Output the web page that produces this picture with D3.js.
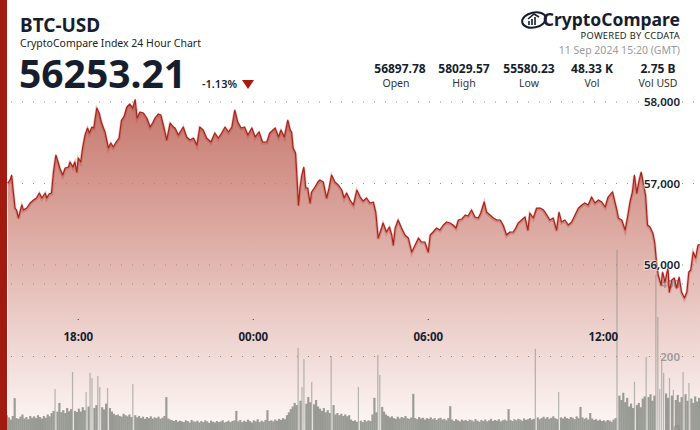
<!DOCTYPE html>
<html>
<head>
<meta charset="utf-8">
<script src="https://cdn.jsdelivr.net/npm/d3@7"></script>
<style>
  body { margin: 0; background: #fff; }
  svg { display: block; font-family: "Noto Sans", sans-serif; }
</style>
</head>
<body>
<svg id="chart" width="700" height="430"></svg>
<script>
// 24h window, 15:20 GMT to 15:20 GMT
var startTime = Date.UTC(2024, 8, 10, 15, 20);
var endTime = Date.UTC(2024, 8, 11, 15, 20);

// minutes after start
var priceMinutes = [16,21,24,27,31,34,38,41,45,48,55,62,69,75,81,86,93,96,101,106,
  110,115,120,123,129,134,141,144,150,154,158,161,166,170,175,180,184,189,193,199,
  204,209,216,223,228,233,239,245,250,255,261,267,273,278,282,288,295,302,309,314,
  319,326,331,336,343,350,357,360,367,377,384,391,398,405,411,418,425,434,442,449,
  456,463,470,477,483,489,496,503,510,518,525,533,540,549,555,566,573,578,585,592,
  597,600,603,608,611,614,617,621,625,629,633,638,641,648,654,658,665,672,677,682,
  689,696,703,708,713,720,727,734,741,747,754,761,768,773,778,785,788,795,801,806,
  809,813,819,826,833,840,847,854,861,867,874,881,885,891,898,905,912,919,926,932,
  938,943,950,957,963,970,977,984,989,996,1001,1008,1015,1022,1029,1035,1042,1049,1056,1061,
  1066,1073,1080,1086,1090,1097,1104,1111,1118,1125,1131,1138,1145,1150,1155,1162,1169,1176,1183,1190,
  1197,1203,1210,1217,1224,1231,1238,1245,1251,1260,1265,1269,1272,1279,1286,1291,1296,1301,1305,1310,
  1314,1319,1323,1328,1332,1337,1343,1347,1351,1354,1360,1363,1368,1374,1377,1382,1387,1392,1397,1402,
  1408,1413,1417,1421,1426,1431,1436,1440];

var prices = [57006,57043,57104,56920,56699,56675,56577,56650,56736,56675,56699,56761,56798,56822,56883,56822,56883,56822,56871,56883,
  57141,57350,57252,57190,57104,57190,57202,57264,57202,57264,57141,57313,57264,57436,57595,57681,57620,57693,57681,57926,
  57865,57742,57632,57436,57497,57448,57509,57558,57779,57816,57939,57975,57926,58030,57804,57877,57865,57804,57693,57742,
  57804,57853,57840,57718,57534,57742,57693,57681,57595,57693,57571,57534,57558,57472,57693,57656,57558,57509,57620,57558,
  57620,57693,57632,57693,57902,57755,57681,57693,57595,57681,57571,57632,57509,57509,57620,57681,57571,57656,57571,57779,
  57656,57632,57436,57374,57067,56736,56945,57104,57202,56945,56945,56761,56896,56957,57018,57043,57018,56822,56945,57104,
  57018,56982,56920,56822,56883,56798,56736,56920,56834,56785,56822,56761,56773,56650,56331,56454,56515,56405,56466,56368,
  56245,56454,56552,56454,56368,56331,56159,56245,56331,56282,56282,56159,56368,56405,56454,56429,56491,56528,56515,56491,
  56454,56552,56564,56613,56601,56675,56589,56577,56638,56773,56650,56613,56577,56552,56552,56491,56368,56405,56405,56454,
  56515,56552,56589,56429,56638,56577,56699,56699,56675,56613,56552,56577,56429,56650,56528,56552,56491,56528,56613,56699,
  56736,56761,56736,56834,56761,56798,56773,56712,56834,56896,56773,56675,56577,56552,56429,56589,56773,56896,57104,56883,
  57018,57141,57018,56859,56491,56466,56393,56270,56000,55877,55755,55914,55791,55963,55669,55816,55840,55718,55853,55669,
  55595,55669,55914,55939,56159,56086,56245,56253];

// volume, one value per 4 minutes
var volStepMinutes = 4;
var volumes = [30,34,28,38,32,26,36,85,30,28,34,40,29,33,27,36,31,35,30,38,
  33,29,36,31,40,35,44,50,110,48,72,46,52,44,58,49,55,157,50,47,
  56,48,60,52,102,62,155,140,58,66,146,116,60,54,70,113,58,48,42,38,
  40,36,34,42,38,35,40,33,124,38,32,36,30,34,28,33,30,35,29,32,
  30,34,28,31,36,88,29,26,24,22,25,20,23,21,19,24,22,18,25,21,
  20,23,18,22,19,24,21,17,23,20,18,22,19,21,24,18,20,23,19,22,
  24,50,21,25,19,23,20,26,22,18,24,21,27,19,23,20,25,52,22,24,
  21,26,23,28,25,30,27,38,46,55,62,72,66,224,78,116,193,70,88,74,
  130,68,80,62,56,50,58,46,52,44,201,66,40,44,38,42,36,40,35,38,
  26,22,24,20,116,23,19,25,21,24,22,40,86,46,204,149,61,48,40,36,
  32,35,30,28,34,29,33,31,36,30,28,32,97,30,27,33,29,31,26,30,
  28,32,27,30,25,29,31,26,28,24,30,63,26,22,27,24,21,26,23,25,
  22,26,24,21,27,23,20,25,22,26,21,24,28,22,25,23,27,21,24,26,
  23,55,25,22,27,24,28,26,23,29,25,27,30,26,28,221,32,27,30,34,
  29,33,28,31,35,30,27,102,32,29,34,30,28,33,31,27,35,30,61,32,
  28,31,26,44,29,25,27,23,26,22,24,21,25,23,20,26,30,494,92,80,
  100,74,86,62,70,58,130,66,72,60,84,90,199,88,96,78,92,425,309,110,
  190,155,98,86,141,92,108,80,94,74,88,157,96,78,127,84,72,90,76,86];

var priceTicks = [56000, 57000, 58000];
var volTicks = [0, 200, 400];

var statValues = ["56897.78", "58029.57", "55580.23", "48.33 K", "2.75 B"];
var statLabels = ["Open", "High", "Low", "Vol", "Vol USD"];

var lastPrice = "56253.21";
var change = "-1.13%";

var svg = d3.select("#chart");
var dark = "#161e2e";

var x = d3.scaleUtc()
    .domain([new Date(startTime), new Date(endTime)])
    .range([0, 700]);

var y = d3.scaleLinear()
    .domain([56000, 58000])
    .range([265, 102]);

var yv = d3.scaleLinear()
    .domain([0, 400])
    .range([429, 284]);

var priceData = priceMinutes.map(function(m, i) {
  return { t: new Date(startTime + m * 60000), p: prices[i] };
});
var volData = volumes.map(function(v, i) {
  return { t: new Date(startTime + i * volStepMinutes * 60000), v: v };
});

var defs = svg.append("defs");
var grad = defs.append("linearGradient")
    .attr("id", "areaGrad")
    .attr("gradientUnits", "userSpaceOnUse")
    .attr("x1", 0).attr("x2", 0)
    .attr("y1", 98).attr("y2", 430);
grad.append("stop").attr("offset", "0").attr("stop-color", "#c6766b");
grad.append("stop").attr("offset", "0.5").attr("stop-color", "#e2b7b0");
grad.append("stop").attr("offset", "1").attr("stop-color", "#fdf8f7");

// area under price
var area = d3.area()
    .x(function(d) { return x(d.t); })
    .y0(430)
    .y1(function(d) { return y(d.p); });

svg.append("path")
    .datum(priceData)
    .attr("fill", "url(#areaGrad)")
    .attr("d", area);

// grid lines
var gridYs = priceTicks.map(function(d) { return y(d); })
    .concat(volTicks.slice(1).map(function(d) { return yv(d); }));
svg.append("g").selectAll("line")
    .data(gridYs)
  .enter().append("line")
    .attr("x1", 11).attr("x2", 700)
    .attr("y1", function(d) { return d; })
    .attr("y2", function(d) { return d; })
    .attr("stroke", "#8f8f8f")
    .attr("stroke-width", 1)
    .attr("stroke-dasharray", "1,10");

// volume bars
var bw = x(new Date(startTime + volStepMinutes * 60000)) - x(new Date(startTime));
svg.append("g").selectAll("rect")
    .data(volData)
  .enter().append("rect")
    .attr("x", function(d) { return x(d.t); })
    .attr("width", function(d) { return d.v > 100 ? 1.2 : bw + 0.2; })
    .attr("y", function(d) { return yv(d.v); })
    .attr("height", function(d) { return yv(0) - yv(d.v) + 1; })
    .attr("fill", "#888c85")
    .attr("fill-opacity", function(d) { return d.v > 100 ? 0.6 : 0.85; });

// volume labels (under the line)
svg.append("g").selectAll("text")
    .data(volTicks)
  .enter().append("text")
    .attr("x", 680)
    .attr("y", function(d) { return yv(d); })
    .attr("dy", "0.35em")
    .attr("text-anchor", "end")
    .attr("font-size", 11.5)
    .attr("font-weight", 600)
    .attr("fill", "#8a8a8a")
    .attr("fill-opacity", 0.8)
    .text(function(d) { return d; });

// price line with soft glow
var line = d3.line()
    .x(function(d) { return x(d.t); })
    .y(function(d) { return y(d.p); });

svg.append("path")
    .datum(priceData)
    .attr("fill", "none")
    .attr("stroke", "#b8433a")
    .attr("stroke-opacity", 0.3)
    .attr("stroke-width", 3)
    .attr("transform", "translate(0,1)")
    .attr("d", line);

svg.append("path")
    .datum(priceData)
    .attr("fill", "none")
    .attr("stroke", "#a8231a")
    .attr("stroke-width", 1.2)
    .attr("stroke-linejoin", "round")
    .attr("d", line);

// price labels
svg.append("g").selectAll("text")
    .data(priceTicks)
  .enter().append("text")
    .attr("x", 680)
    .attr("y", function(d) { return y(d); })
    .attr("dy", "0.35em")
    .attr("text-anchor", "end")
    .attr("font-size", 11.5)
    .attr("font-weight", 600)
    .attr("fill", dark)
    .attr("stroke", "#fff")
    .attr("stroke-opacity", 0.5)
    .attr("stroke-width", 2)
    .attr("paint-order", "stroke")
    .text(function(d) { return d3.format(",")(d); });

// time axis
var xAxis = svg.append("g")
    .attr("transform", "translate(0,319)")
    .call(d3.axisBottom(x)
      .ticks(d3.utcHour.every(6))
      .tickFormat(d3.utcFormat("%H:%M"))
      .tickSize(1)
      .tickPadding(13));
xAxis.select(".domain").remove();
xAxis.selectAll("line").attr("stroke", "#333");
xAxis.selectAll("text")
    .attr("font-family", "Noto Sans, sans-serif")
    .attr("font-size", 11.5)
    .attr("font-weight", 700)
    .attr("fill", dark);

// header
svg.append("text")
    .attr("x", 20).attr("y", 32)
    .attr("font-size", 19).attr("font-weight", 700)
    .attr("fill", dark)
    .text("BTC-USD");

svg.append("text")
    .attr("x", 20).attr("y", 47)
    .attr("font-size", 10.5)
    .attr("fill", "#222")
    .text("CryptoCompare Index 24 Hour Chart");

svg.append("text")
    .attr("x", 19).attr("y", 88)
    .attr("font-size", 39).attr("font-weight", 700)
    .attr("fill", dark)
    .text(lastPrice);

svg.append("text")
    .attr("x", 202).attr("y", 88)
    .attr("font-size", 11).attr("font-weight", 600)
    .attr("fill", dark)
    .text(change);

svg.append("path")
    .attr("d", "M242,80 L254,80 L248,89 Z")
    .attr("fill", "#a8190e");

// logo
var logo = svg.append("g");
logo.append("ellipse")
    .attr("cx", 534).attr("cy", 20)
    .attr("rx", 12).attr("ry", 7.5)
    .attr("transform", "rotate(-12,534,20)")
    .attr("fill", "none")
    .attr("stroke", dark)
    .attr("stroke-width", 2);
logo.append("path")
    .attr("d", "M529,25 L529,21 M532,25 L532,19 M535,25 L535,17 M528,19 L534,14 L539,17")
    .attr("fill", "none")
    .attr("stroke", dark)
    .attr("stroke-width", 1.6);

svg.append("text")
    .attr("x", 680).attr("y", 26)
    .attr("text-anchor", "end")
    .attr("font-size", 17.5).attr("font-weight", 700)
    .attr("fill", dark)
    .text("CryptoCompare");

svg.append("text")
    .attr("x", 680).attr("y", 38.5)
    .attr("text-anchor", "end")
    .attr("font-size", 9.3)
    .attr("letter-spacing", "0.3")
    .attr("fill", "#222")
    .text("POWERED BY CCDATA");

svg.append("text")
    .attr("x", 680).attr("y", 54)
    .attr("text-anchor", "end")
    .attr("font-size", 10.5)
    .attr("fill", "#9b9b9b")
    .text("11 Sep 2024 15:20 (GMT)");

// stats
var statX = [400, 464, 529, 592, 658];
svg.append("g").selectAll("text")
    .data(statValues)
  .enter().append("text")
    .attr("x", function(d, i) { return statX[i]; })
    .attr("y", 73)
    .attr("text-anchor", "middle")
    .attr("font-size", 12).attr("font-weight", 700)
    .attr("fill", dark)
    .text(function(d) { return d; });

svg.append("g").selectAll("text")
    .data(statLabels)
  .enter().append("text")
    .attr("x", function(d, i) { return statX[i] - (i == 0 ? 4 : 0); })
    .attr("y", 87)
    .attr("text-anchor", "middle")
    .attr("font-size", 10.5)
    .attr("fill", "#333")
    .text(function(d) { return d; });

// left accent bar
svg.append("rect")
    .attr("x", 0).attr("y", 0)
    .attr("width", 7).attr("height", 430)
    .attr("fill", "#a21b10");
</script>
</body>
</html>
